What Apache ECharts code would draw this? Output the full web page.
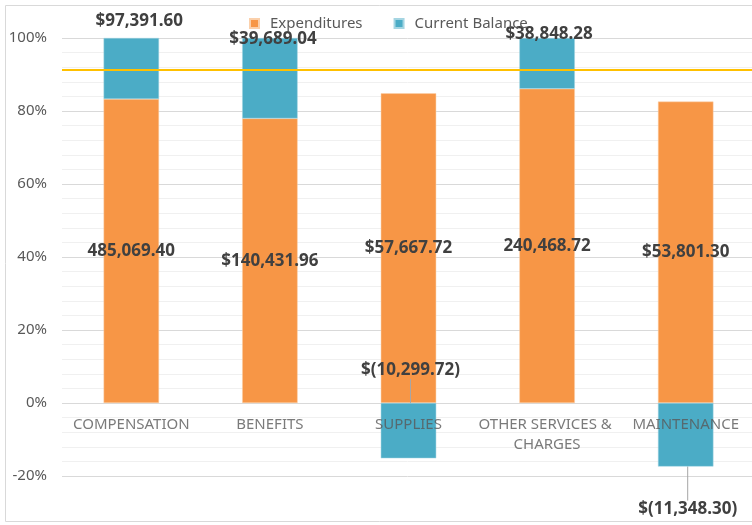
<!DOCTYPE html>
<html>
<head>
<meta charset="utf-8">
<script src="https://cdn.jsdelivr.net/npm/echarts@6/dist/echarts.min.js"></script>
<style>
  html, body { margin: 0; padding: 0; background: #fff; }
  #main { width: 752px; height: 525px; }
</style>
</head>
<body>
<div id="main"></div>
<script>
// categories and amounts
const categories = ["COMPENSATION", "BENEFITS", "SUPPLIES", "OTHER SERVICES & CHARGES", "MAINTENANCE"];
const expenditures = [485069.40, 140431.96, 57667.72, 240468.72, 53801.30];
const currentBalance = [97391.60, 39689.04, -10299.72, 38848.28, -11348.30];
// which labels carry a "$" in the original
const expDollar = [false, true, true, false, true];
const targetLine = 91.2; // yellow reference line, percent

// share of (|expenditure| + |balance|), like Excel 100% stacked
const totals = expenditures.map((v, i) => Math.abs(v) + Math.abs(currentBalance[i]));
const expPct = expenditures.map((v, i) => (v / totals[i]) * 100);
const balPct = currentBalance.map((v, i) => (v / totals[i]) * 100);

function money(v, dollar) {
  const s = Math.abs(v).toLocaleString("en-US", { minimumFractionDigits: 2, maximumFractionDigits: 2 });
  if (v < 0) return "$(" + s + ")";
  return (dollar ? "$" : "") + s;
}

// manual label placement (Excel labels were dragged by hand)
const balLabelPos = ["top", "top", "top", "top", "bottom"];
const balLabelDx = [8, 3, 2, 2, 2];
const balLabelDy = [-3, 15, -19, 10, 29];

const chart = echarts.init(document.getElementById("main"), null, { renderer: "canvas" });

const labelFont = {
  fontFamily: "Noto Sans",
  fontWeight: "bold",
  fontSize: 17,
  color: "#404040",
};

chart.setOption({
  animation: false,
  textStyle: { fontFamily: "Noto Sans" },
  graphic: [
    {
      type: "rect",
      shape: { x: 5.5, y: 5.5, width: 760, height: 516 },
      style: { fill: "none", stroke: "#d9d9d9", lineWidth: 1 },
      silent: true,
    },
  ],
  legend: {
    top: 11,
    left: 244,
    itemWidth: 9,
    itemHeight: 9,
    itemGap: 31,
    icon: "rect",
    textStyle: { fontSize: 15, color: "#595959", fontFamily: "Noto Sans", padding: [0, 0, 0, 6] },
    data: ["Expenditures", "Current Balance"],
  },
  grid: { left: 62, right: -3, top: 38, bottom: 49, outerBoundsMode: "none", containLabel: false },
  xAxis: {
    type: "category",
    data: categories,
    axisTick: { show: false },
    axisLine: { show: false },
    axisLabel: { show: false },
  },
  yAxis: {
    type: "value",
    min: -20,
    max: 100,
    interval: 20,
    axisLabel: {
      color: "#595959",
      fontSize: 15,
      margin: 15,
      formatter: (v) => v + "%",
    },
    splitLine: { lineStyle: { color: "#d9d9d9" } },
    minorTick: { show: false, splitNumber: 5 },
    minorSplitLine: { show: true, lineStyle: { color: "#f0f0f0" } },
  },
  series: [
    {
      name: "Expenditures",
      type: "bar",
      stack: "total",
      barWidth: "40%",
      z: 2,
      itemStyle: { color: "#F79646", borderColor: "#fbd0ab", borderWidth: 0.5 },
      label: {
        show: true,
        position: "inside",
        ...labelFont,
        formatter: (p) => money(expenditures[p.dataIndex], expDollar[p.dataIndex]),
      },
      data: expPct,
      markLine: {
        silent: true,
        symbol: "none",
        label: { show: false },
        lineStyle: { color: "#FFC000", width: 2, type: "solid" },
        data: [{ yAxis: targetLine }],
      },
    },
    {
      name: "Current Balance",
      type: "bar",
      stack: "total",
      barWidth: "40%",
      z: 3,
      itemStyle: { color: "#4BACC6", borderColor: "#a5d5e2", borderWidth: 0.5 },
      label: {
        show: true,
        ...labelFont,
        formatter: (p) => money(currentBalance[p.dataIndex], true),
      },
      labelLine: { lineStyle: { color: "#a6a6a6", width: 1 } },
      labelLayout: (params) => ({ dx: balLabelDx[params.dataIndex], dy: balLabelDy[params.dataIndex] }),
      data: balPct.map((v, i) => ({
        value: v,
        label: { position: balLabelPos[i] },
        labelLine: { show: v < 0 },
      })),
    },
    {
      // category names sit on the 0% line, as in the original
      name: "axis-names",
      type: "scatter",
      silent: true,
      symbolSize: 0,
      z: 4,
      label: {
        show: true,
        position: "bottom",
        distance: 12,
        color: "#595959",
        fontSize: 15,
        lineHeight: 20,
        width: 140,
        overflow: "break",
        align: "center",
        formatter: (p) => categories[p.dataIndex],
      },
      data: categories.map((c) => [c, 0]),
    },
  ],
});
</script>
</body>
</html>
